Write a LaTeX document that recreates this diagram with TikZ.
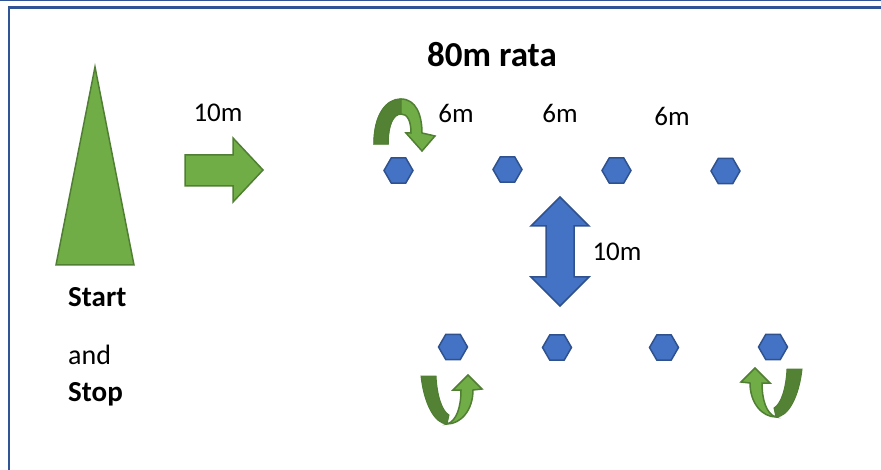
\documentclass[tikz,border=0pt]{standalone}
\usepackage{fontspec}
\setmainfont{Carlito}
\usetikzlibrary{shapes.geometric}
\definecolor{gfill}{HTML}{70AD47}
\definecolor{gline}{HTML}{507E32}
\definecolor{gdark}{HTML}{548235}
\definecolor{bfill}{HTML}{4472C4}
\definecolor{bline}{HTML}{2F528F}
\definecolor{frame}{HTML}{2F5597}
\tikzset{
  gshape/.style={fill=gfill,draw=gline,line width=1.5pt,line join=miter},
  gband/.style={fill=gdark,draw=gline,line width=1pt},
  bshape/.style={fill=bfill,draw=bline,line width=1.5pt},
  hexa/.style={regular polygon,regular polygon sides=6,minimum size=29pt,inner sep=0pt,fill=bfill,draw=bline,line width=1.5pt},
  lbl/.style={font=\fontsize{27}{32}\selectfont,inner sep=0pt},
  side/.style={font=\fontsize{28}{33}\selectfont,inner sep=0pt,anchor=west},
  framel/.style={draw=frame,line width=2.5pt}
}
\begin{document}
\begin{tikzpicture}[x=1pt,y=-1pt]
\useasboundingbox (0,0) rectangle (881,470);
% frame
\draw[draw=frame,line width=1.2pt] (0,0.6) -- (881,0.6);
\draw[framel] (9,470) -- (9,7.5) -- (881,7.5);
% cone
\draw[gshape] (95,67) -- (134,265) -- (56,265) -- cycle;
% right arrow
\draw[gshape] (185,155) -- (233,155) -- (233,138) -- (263,170) -- (233,202) -- (233,186) -- (185,186) -- cycle;
% double arrow
\draw[bshape] (560,197) -- (589,226) -- (574,226) -- (574,277) -- (589,277) -- (560,306) -- (531,277) -- (546,277) -- (546,226) -- (531,226) -- cycle;
% hexagons
\node[hexa] (h1) at (398.5,170.5) {};
\node[hexa] (h2) at (507.5,169.5) {};
\node[hexa] (h3) at (616.5,170.5) {};
\node[hexa] (h4) at (725.5,171) {};
\node[hexa] (h5) at (453,347) {};
\node[hexa] (h6) at (557,347.5) {};
\node[hexa] (h7) at (664,347.5) {};
\node[hexa] (h8) at (773,347) {};
% top U-turn arrow
\draw[gshape] (374,144) .. controls (374,115) and (386,99) .. (401,99) .. controls (416,99) and (422,115) .. (422,133) -- (435,136) -- (422,151) -- (406,133) -- (411,133) .. controls (411,120) and (407,114) .. (401,114) .. controls (393,114) and (388,125) .. (388,144) -- cycle;
\draw[gband] (374,144) .. controls (374,115) and (386,99) .. (401,99) -- (401,114) .. controls (393,114) and (388,125) .. (388,144) -- cycle;
% bottom-left arrow
\begin{scope}[shift={(447,424)}]
\draw[gband] (-26,-48) .. controls (-23,-20) and (-12,0) .. (0,0) -- (2,-9) .. controls (-5,-13) and (-10,-28) .. (-11,-48) -- cycle;
\draw[gshape] (0,0) .. controls (10,-3) and (14,-18) .. (14,-34) -- (6,-34) -- (21,-49) -- (35,-35) -- (26,-34) .. controls (26,-14) and (14,0) .. (0,0) -- cycle;
\end{scope}
% bottom-right arrow (mirrored)
\begin{scope}[shift={(776,417)},xscale=-1]
\draw[gband] (-26,-48) .. controls (-23,-20) and (-12,0) .. (0,0) -- (2,-9) .. controls (-5,-13) and (-10,-28) .. (-11,-48) -- cycle;
\draw[gshape] (0,0) .. controls (10,-3) and (14,-18) .. (14,-34) -- (6,-34) -- (21,-49) -- (35,-35) -- (26,-34) .. controls (26,-14) and (14,0) .. (0,0) -- cycle;
\end{scope}
% labels
\node[font=\fontsize{35}{40}\selectfont\bfseries,inner sep=0pt] (title) at (492,55) {80m rata};
\node[lbl] (d1) at (218,113) {10m};
\node[lbl] (d2) at (456,113) {6m};
\node[lbl] (d3) at (560,113) {6m};
\node[lbl] (d4) at (672,116) {6m};
\node[lbl] (d5) at (617,252) {10m};
\node[side,font=\fontsize{29}{33}\selectfont\bfseries] (start) at (68,297) {Start};
\node[side] (and) at (68,355) {and};
\node[side,font=\fontsize{29}{33}\selectfont\bfseries] (stop) at (68,394) {Stop};
\end{tikzpicture}
\end{document}
